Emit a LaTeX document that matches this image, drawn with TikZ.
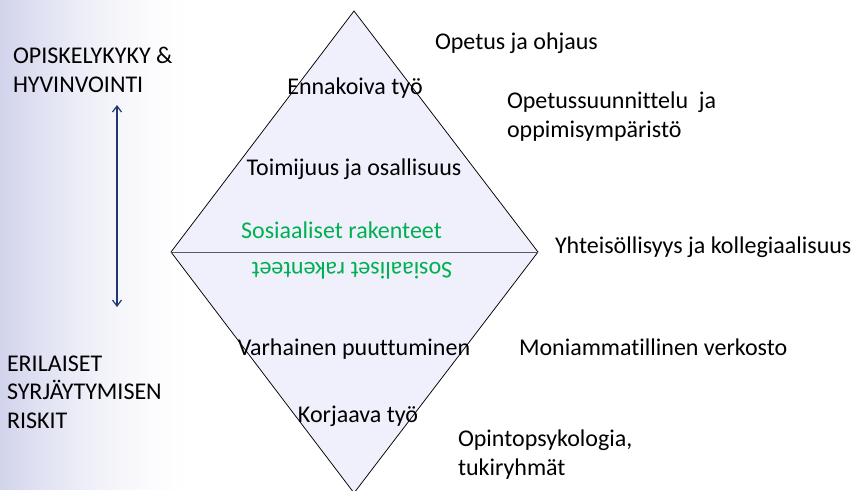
\documentclass[tikz,border=0pt]{standalone}
\usepackage{fontspec}
\setmainfont{Carlito}[Ligatures=CommonOff]
\usetikzlibrary{arrows.meta}
\definecolor{lavender}{RGB}{240,240,252}
\definecolor{sidebar}{RGB}{210,212,236}
\definecolor{arrowblue}{RGB}{31,56,110}
\definecolor{textgreen}{RGB}{0,176,80}
\tikzset{
  lbl/.style={anchor=base west, font=\fontsize{24}{28.5}\selectfont, align=left},
  clbl/.style={anchor=base, font=\fontsize{24}{28.5}\selectfont}
}

\begin{document}
\begin{tikzpicture}[y=1pt, x=1pt, yscale=-1, inner sep=0pt, outer sep=0pt]
\useasboundingbox (0,0) rectangle (867,490);
\path[fill=white] (0,0) rectangle (867,490);
% fading band on the left
\foreach \i in {0,...,63} {
  \pgfmathsetmacro\pct{100*(1-\i/64)^1.6}
  \path[fill=sidebar!\pct!white] (3*\i,0) rectangle (3*\i+3.3,490);
}
% diamond
\path[draw=black,fill=lavender,line join=miter,line width=0.75pt]
  (354,11) -- (538,252) -- (354,493) -- (171,252) -- cycle;
\path[draw=black!65,line width=0.9pt] (171,252) -- (538,252);
% left side (base = last line)
\node[lbl] (text1) at (13,92) {OPISKELYKYKY \&\\HYVINVOINTI};
\node[lbl] (text2) at (7,428) {ERILAISET\\SYRJÄYTYMISEN\\RISKIT};
\coordinate (up) at (117,105);
\coordinate (down) at (117,307);
\path[draw=arrowblue,line width=1.2pt,{Straight Barb[length=6pt,width=9pt]}-{Straight Barb[length=6pt,width=9pt]}]
  (up) -- (down);
% inside the diamond
\node[clbl] (ennakoiva) at (355,94) {Ennakoiva työ};
\node[clbl] (toimijuus) at (354,175) {Toimijuus ja osallisuus};
\node[clbl,text=textgreen] (rakenteet) at (341.5,238) {Sosiaaliset rakenteet};
\node[clbl,text=textgreen,rotate=180] (rakenteet2) at (352,262) {Sosiaaliset rakenteet};
\node[clbl] (varhainen) at (354,355) {Varhainen puuttuminen};
\node[clbl] (korjaava) at (358,422) {Korjaava työ};
% right side
\node[lbl] (opetus) at (435,49) {Opetus ja ohjaus};
\node[lbl] (ops) at (507,137) {Opetussuunnittelu\ \ ja\\oppimisympäristö};
\node[lbl] (yhteis) at (555,253) {Yhteisöllisyys ja kollegiaalisuus};
\node[lbl] (moni) at (519,355) {Moniammatillinen verkosto};
\node[lbl] (psyk) at (458,475) {Opintopsykologia,\\tukiryhmät};
\end{tikzpicture}
\end{document}
